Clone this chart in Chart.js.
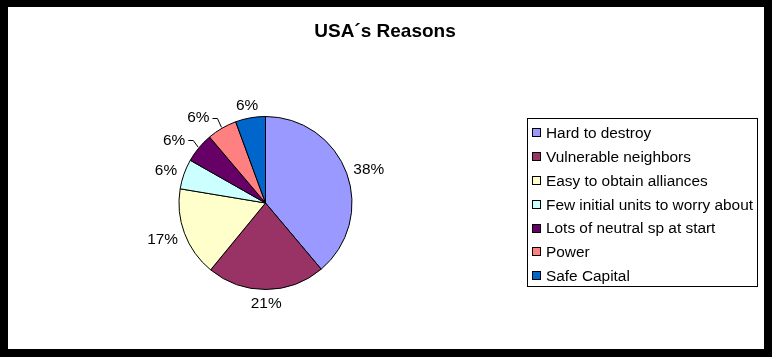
<!DOCTYPE html>
<html>
<head>
<meta charset="utf-8">
<script src="https://cdn.jsdelivr.net/npm/chart.js@4/dist/chart.umd.min.js"></script>
<style>
  html, body { margin: 0; padding: 0; background: #fff; }
  #wrap { width: 772px; height: 357px; }
</style>
</head>
<body>
<div id="wrap"><canvas id="c" width="772" height="357"></canvas></div>
<script>
const chartTitle = "USA\u00b4s Reasons";
const categories = [
  "Hard to destroy",
  "Vulnerable neighbors",
  "Easy to obtain alliances",
  "Few initial units to worry about",
  "Lots of neutral sp at start",
  "Power",
  "Safe Capital"
];
// slice sizes as drawn (share of the pie, %)
const shares = [38.9, 22.1, 16.7, 5.6, 5.6, 5.6, 5.6];
// percentage labels as printed on the chart
const percentLabels = ["38%", "21%", "17%", "6%", "6%", "6%", "6%"];
const sliceColors = ["#9999FF", "#993366", "#FFFFCC", "#CCFFFF", "#660066", "#FF8080", "#0066CC"];

const FONT = '"Liberation Sans", Arial, Helvetica, sans-serif';

const framePlugin = {
  id: 'frame',
  beforeDraw(chart) {
    const c = chart.ctx;
    c.save();
    c.fillStyle = '#000';
    c.fillRect(0, 0, chart.width, chart.height);
    c.fillStyle = '#fff';
    c.fillRect(8, 7, chart.width - 16, chart.height - 15);
    // title
    c.fillStyle = '#000';
    c.font = 'bold 19px ' + FONT;
    c.textAlign = 'center';
    c.textBaseline = 'alphabetic';
    c.fillText(chartTitle, 385, 37);
    c.restore();
  }
};

const labelPlugin = {
  id: 'outLabels',
  afterDatasetsDraw(chart, args, opts) {
    const c = chart.ctx;
    const meta = chart.getDatasetMeta(0);
    const gap = opts.gap;
    c.save();
    c.font = '15.4px ' + FONT;
    c.fillStyle = '#000';
    c.strokeStyle = '#000';
    c.lineWidth = 1;
    c.textAlign = 'center';
    c.textBaseline = 'alphabetic';
    meta.data.forEach((arc, i) => {
      const p = arc.getProps(['x', 'y', 'startAngle', 'endAngle', 'outerRadius'], true);
      const mid = (p.startAngle + p.endAngle) / 2;
      const dx = Math.cos(mid), dy = Math.sin(mid);
      const txt = percentLabels[i];
      const w = c.measureText(txt).width;
      const h = 11;
      const d = p.outerRadius + gap;
      let lx = p.x + dx * d + dx * w / 2;
      let ly = p.y + dy * d + dy * h / 2;
      const shift = (opts.shift && opts.shift[i]) || 0;
      lx += shift;
      c.fillText(txt, lx, ly + 5.5);
      if (shift !== 0) {
        const right = lx + w / 2;
        const yy = Math.round(ly + 1) + 0.5;
        const ex = p.x + dx * (p.outerRadius + 1);
        const ey = p.y + dy * (p.outerRadius + 1);
        c.beginPath();
        c.moveTo(right + 3, yy);
        c.lineTo(right + 8, yy);
        c.lineTo(ex, ey);
        c.stroke();
      }
    });
    c.restore();
  }
};

const legendPlugin = {
  id: 'boxLegend',
  afterDraw(chart) {
    const c = chart.ctx;
    c.save();
    c.strokeStyle = '#000';
    c.lineWidth = 1;
    c.strokeRect(527.5, 118.5, 230, 168);
    c.font = '15.4px ' + FONT;
    c.textAlign = 'left';
    c.textBaseline = 'alphabetic';
    categories.forEach((name, i) => {
      const cy = 132.3 + i * 23.8;
      const top = Math.round(cy - 4) + 0.5;
      c.fillStyle = sliceColors[i];
      c.fillRect(532.5, top, 8, 8);
      c.strokeRect(532.5, top, 8, 8);
      c.fillStyle = '#000';
      c.fillText(name, 546, cy + 5.8);
    });
    c.restore();
  }
};

new Chart(document.getElementById('c'), {
  type: 'pie',
  data: {
    labels: categories,
    datasets: [{
      data: shares,
      backgroundColor: sliceColors,
      borderColor: '#000',
      borderWidth: 1
    }]
  },
  options: {
    responsive: false,
    animation: false,
    layout: { padding: { left: 178.5, right: 419.5, top: 116, bottom: 67 } },
    plugins: {
      legend: { display: false },
      tooltip: { enabled: false },
      title: { display: false },
      outLabels: { gap: 8, shift: { 4: -10, 5: -14 } }
    }
  },
  plugins: [framePlugin, labelPlugin, legendPlugin]
});
</script>
</body>
</html>
